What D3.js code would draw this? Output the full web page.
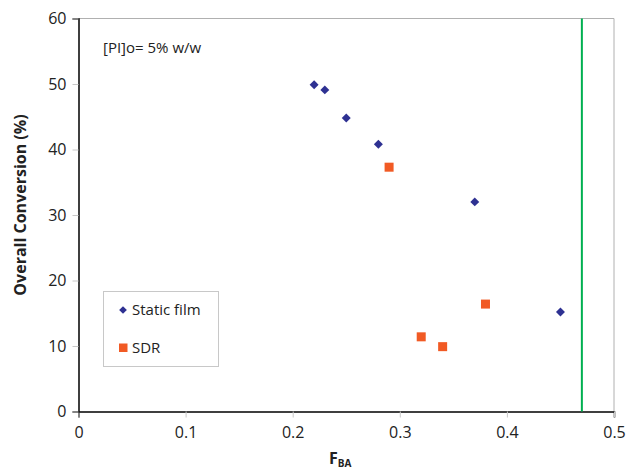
<!DOCTYPE html>
<html>
<head>
<meta charset="utf-8">
<script src="https://cdn.jsdelivr.net/npm/d3@7"></script>
<style>
  body { margin: 0; background: #fff; }
  text { font-family: "Open Sans", sans-serif; fill: #222; }
</style>
</head>
<body>
<div id="container"></div>
<script>
const staticX = [0.22, 0.23, 0.25, 0.28, 0.37, 0.45];
const staticY = [49.9, 49.1, 44.8, 40.8, 32.0, 15.2];
const sdrX = [0.29, 0.32, 0.34, 0.38];
const sdrY = [37.3, 11.4, 9.9, 16.4];
const limitX = 0.47;
const xTicks = [0, 0.1, 0.2, 0.3, 0.4, 0.5];
const yTicks = [0, 10, 20, 30, 40, 50, 60];
const seriesNames = ["Static film", "SDR"];

const width = 629;
const height = 470;
const margin = { top: 18.5, right: 15, bottom: 58.5, left: 78.5 };

const blue = "#2e3192";
const orange = "#f15a24";

let x = d3.scaleLinear()
    .domain([0, 0.5])
    .range([margin.left, width - margin.right]);

let y = d3.scaleLinear()
    .domain([0, 60])
    .range([height - margin.bottom, margin.top]);

let svg = d3.select("#container").append("svg")
    .attr("width", width)
    .attr("height", height);

// gray frame top and right
svg.append("path")
    .attr("fill", "none")
    .attr("stroke", "#b0b0b0")
    .attr("stroke-width", 1)
    .attr("d", `M${x(0)},${y(60)}L${x(0.5)},${y(60)}L${x(0.5)},${y(0)}`);

// x axis
let xAxis = svg.append("g")
    .attr("transform", `translate(0,${y(0)})`)
    .call(d3.axisBottom(x).tickValues(xTicks).tickSize(6).tickPadding(9)
        .tickFormat(d => d === 0 ? "0" : d3.format(".1f")(d)));
xAxis.select(".domain").attr("stroke", "#000").attr("stroke-width", 1.5);
xAxis.selectAll(".tick line").attr("stroke", "#c8c8c8");
xAxis.selectAll("text").attr("font-size", 16).attr("fill", "#222");

// y axis
let yAxis = svg.append("g")
    .attr("transform", `translate(${x(0)},0)`)
    .call(d3.axisLeft(y).tickValues(yTicks).tickSize(6).tickPadding(6));
yAxis.select(".domain").attr("stroke", "#000").attr("stroke-width", 1.5);
yAxis.selectAll(".tick line").attr("stroke", "#c8c8c8");
yAxis.selectAll("text").attr("font-size", 16).attr("fill", "#222");

// limit line
svg.append("line")
    .attr("x1", x(limitX)).attr("x2", x(limitX))
    .attr("y1", y(60)).attr("y2", y(0))
    .attr("stroke", "#00b050")
    .attr("stroke-width", 2);

let staticData = staticX.map((d, i) => ({ x: d, y: staticY[i] }));
let sdrData = sdrX.map((d, i) => ({ x: d, y: sdrY[i] }));

// static film diamonds
let diamond = d3.symbol().type(d3.symbolSquare).size(40);

svg.append("g")
    .selectAll("path")
    .data(staticData)
    .join("path")
    .attr("d", diamond)
    .attr("fill", blue)
    .attr("transform", d => `translate(${x(d.x)},${y(d.y)}) rotate(45)`);

// SDR squares
svg.append("g")
    .selectAll("rect")
    .data(sdrData)
    .join("rect")
    .attr("x", d => x(d.x) - 4.5)
    .attr("y", d => y(d.y) - 4.5)
    .attr("width", 9)
    .attr("height", 9)
    .attr("fill", orange);

// annotation
svg.append("text")
    .attr("x", 103)
    .attr("y", 53)
    .attr("font-size", 15)
    .text("[PI]o= 5% w/w");

// legend
let legend = svg.append("g");
legend.append("rect")
    .attr("x", 103.5).attr("y", 291.5)
    .attr("width", 115).attr("height", 75)
    .attr("fill", "#fff")
    .attr("stroke", "#c8c8c8");
legend.append("path")
    .attr("d", d3.symbol().type(d3.symbolSquare).size(30))
    .attr("fill", blue)
    .attr("transform", "translate(123,310) rotate(45)");
legend.append("rect")
    .attr("x", 119).attr("y", 343.5)
    .attr("width", 8.5).attr("height", 8.5)
    .attr("fill", orange);
legend.selectAll("text")
    .data(seriesNames)
    .join("text")
    .attr("x", 132)
    .attr("y", (d, i) => 315 + i * 38)
    .attr("font-size", 15)
    .text(d => d);

// axis titles
svg.append("text")
    .attr("transform", `translate(26,${y(30) - 10}) rotate(-90)`)
    .attr("text-anchor", "middle")
    .attr("font-size", 16)
    .attr("font-weight", "bold")
    .text("Overall Conversion (%)");

let xt = svg.append("text")
    .attr("x", 329)
    .attr("y", 464)
    .attr("font-size", 16)
    .attr("font-weight", "bold");
xt.append("tspan").text("F");
xt.append("tspan").attr("font-size", 10).attr("dy", 3).text("BA");
</script>
</body>
</html>
